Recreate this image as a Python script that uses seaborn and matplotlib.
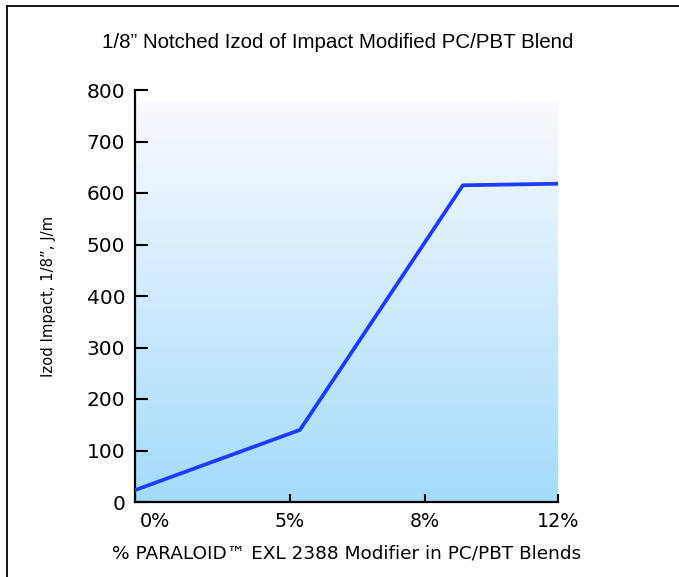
import numpy as np
import pandas as pd
import seaborn as sns
import matplotlib.pyplot as plt
from matplotlib.colors import LinearSegmentedColormap
from matplotlib.lines import Line2D
from matplotlib.transforms import ScaledTranslation

# data (x in axis units, the axis is not linear in %)
modifier_pos = [0, 4.68, 9.3, 12]
izod_impact = [23, 140, 615, 618]
tick_pos = [0, 4.4, 8.23, 12]
tick_labels = ['0%', '5%', '8%', '12%']
y_ticks = [0, 100, 200, 300, 400, 500, 600, 700, 800]

df = pd.DataFrame({'pos': modifier_pos, 'impact': izod_impact})

sns.set_style('ticks')
plt.rcParams['font.family'] = ['DejaVu Sans']
plt.rcParams['text.color'] = 'black'
plt.rcParams['axes.labelcolor'] = 'black'
plt.rcParams['xtick.color'] = 'black'
plt.rcParams['ytick.color'] = 'black'

fig = plt.figure(figsize=(6.79, 5.77), dpi=100)
ax = fig.add_axes([135 / 679, 1 - 502 / 577, (558 - 135) / 679, (502 - 90) / 577])

# background gradient, light blue at the bottom fading to white
grad = LinearSegmentedColormap.from_list('bg', ['#a4dbfb', '#fafaff'])
ax.imshow(np.linspace(0, 1, 256).reshape(-1, 1), cmap=grad, origin='lower',
          extent=[0, 12, 0, 778], aspect='auto', zorder=0)

sns.lineplot(data=df, x='pos', y='impact', color='#1e3cff', linewidth=2.7,
             ax=ax, zorder=3)

ax.set_xlim(0, 12)
ax.set_ylim(0, 800)
ax.set_yticks(y_ticks)
ax.set_xticks(tick_pos)
ax.set_xticklabels(tick_labels)
ax.tick_params(axis='y', direction='in', length=9.5, width=1.5, labelsize=14.5, pad=7)
ax.tick_params(axis='x', direction='in', length=6, width=1.5, labelsize=13.8, pad=7)
for s in ['top', 'right']:
    ax.spines[s].set_visible(False)
for s in ['left', 'bottom']:
    ax.spines[s].set_linewidth(1.6)
    ax.spines[s].set_color('black')

# first label sits a bit to the right of the spine
lab0 = ax.get_xticklabels()[0]
lab0.set_transform(lab0.get_transform() + ScaledTranslation(20 / 100, 0, fig.dpi_scale_trans))

ax.set_xlabel('% PARALOID\u2122 EXL 2388 Modifier in PC/PBT Blends', fontsize=13.3, labelpad=10)
ax.set_ylabel('Izod Impact, 1/8\u201d, J/m', fontsize=10.6, labelpad=22)
fig.text(0.497, 1 - 42 / 577, '1/8\u201d Notched Izod of Impact Modified PC/PBT Blend',
         ha='center', va='center', fontsize=14.8, family='Liberation Sans')

# frame lines on top and left
fig.add_artist(Line2D([7 / 679, 7 / 679], [0, 1 - 6 / 577], color='black', linewidth=1.3))
fig.add_artist(Line2D([7 / 679, 1], [1 - 6 / 577, 1 - 6 / 577], color='black', linewidth=1.3))

fig.savefig('out.png', dpi=100)
